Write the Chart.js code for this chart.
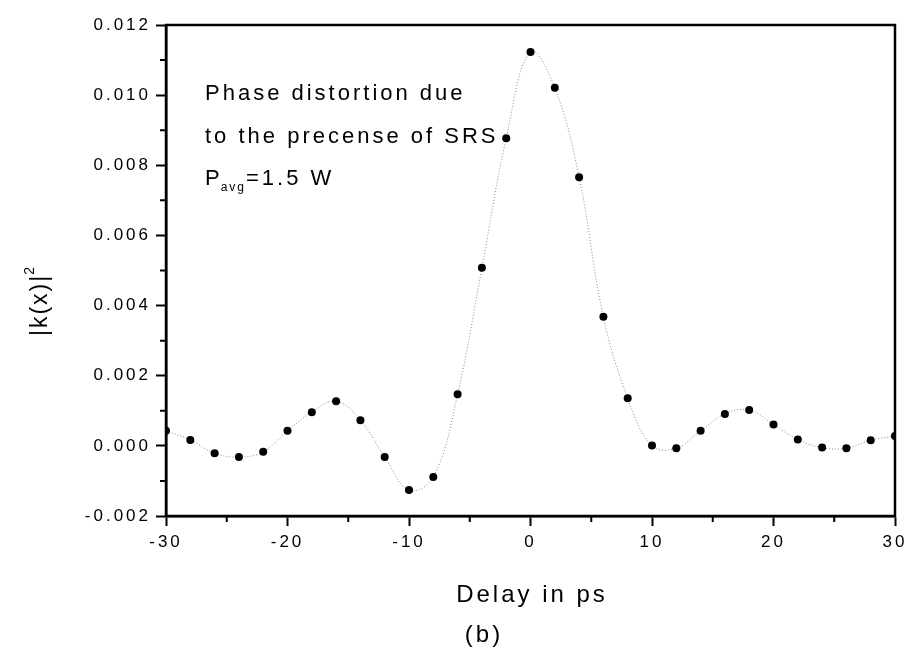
<!DOCTYPE html>
<html><head><meta charset="utf-8">
<script src="https://cdn.jsdelivr.net/npm/chart.js@4/dist/chart.umd.min.js"></script>
<style>html,body{margin:0;padding:0;background:#fff}#wrap{width:910px;height:654px}</style>
</head><body><div id="wrap"><canvas id="c" width="910" height="654"></canvas></div>
<script>
const delays = [-30,-28,-26,-24,-22,-20,-18,-16,-14,-12,-10,-8,-6,-4,-2,0,2,4,6,8,10,12,14,16,18,20,22,24,26,28,30];
const kx2 = [0.00043,0.00017,-0.00021,-0.00032,-0.00017,0.00043,0.00096,0.00127,0.00073,-0.00032,-0.00126,-0.00089,0.00147,0.00508,0.00877,0.01123,0.01021,0.00766,0.00368,0.00136,0.00001,-0.00007,0.00043,0.00091,0.00102,0.00061,0.00018,-0.00005,-0.00007,0.00016,0.00028];
const xMinorTicks = [-25,-15,-5,5,15,25];
const yMinorTicks = [-0.001,0.001,0.003,0.005,0.007,0.009,0.011];
const annotationLines = ['Phase distortion due','to the precense of SRS'];
const powerLabel = {main:'P', sub:'avg', rest:'=1.5 W'};
const xTitle = 'Delay in ps';
const yTitle = '|k(x)|';
const yTitleSup = '2';
const caption = '(b)';

const FONT = 'Arial, "Liberation Sans", sans-serif';
const spacingPlugin = {
  id:'spacing',
  beforeLayout(chart){ chart.ctx.letterSpacing='3px'; },
  beforeDraw(chart){ chart.ctx.letterSpacing='3px'; }
};
const decorPlugin = {
  id:'decor',
  afterDraw(chart){
    const ctx = chart.ctx, a = chart.chartArea;
    const xs = chart.scales.x, ys = chart.scales.y;
    ctx.save();
    ctx.strokeStyle='#000'; ctx.lineWidth=2.5;
    ctx.strokeRect(a.left, a.top, a.right-a.left, a.bottom-a.top);
    ctx.lineWidth=2;
    ctx.beginPath();
    xMinorTicks.forEach(v=>{const p=xs.getPixelForValue(v); ctx.moveTo(p,a.bottom); ctx.lineTo(p,a.bottom+6);});
    yMinorTicks.forEach(v=>{const p=ys.getPixelForValue(v); ctx.moveTo(a.left,p); ctx.lineTo(a.left-6,p);});
    ctx.stroke();
    ctx.fillStyle='#000';
    // annotation
    ctx.letterSpacing='3px';
    ctx.font='22px '+FONT;
    ctx.textAlign='left'; ctx.textBaseline='alphabetic';
    ctx.fillText(annotationLines[0], 205, 100);
    ctx.fillText(annotationLines[1], 205, 143);
    ctx.fillText(powerLabel.main, 205, 185);
    let w = ctx.measureText(powerLabel.main).width;
    ctx.font='12px '+FONT; ctx.letterSpacing='2px';
    ctx.fillText(powerLabel.sub, 205+w-2, 191);
    let w2 = ctx.measureText(powerLabel.sub).width;
    ctx.font='22px '+FONT; ctx.letterSpacing='3px';
    ctx.fillText(powerLabel.rest, 205+w-2+w2, 185);
    // x title
    ctx.font='24px '+FONT; ctx.letterSpacing='3px';
    ctx.textAlign='center';
    ctx.fillText(xTitle, 532, 602);
    ctx.fillText(caption, 484, 642);
    // y title
    ctx.translate(47, 300);
    ctx.rotate(-Math.PI/2);
    ctx.font='23px '+FONT; ctx.letterSpacing='2px';
    const tw = ctx.measureText(yTitle).width;
    ctx.font='14px '+FONT;
    const sw = ctx.measureText(yTitleSup).width;
    const start = -(tw+sw)/2;
    ctx.textAlign='left';
    ctx.font='23px '+FONT;
    ctx.fillText(yTitle, start, 0);
    ctx.font='14px '+FONT;
    ctx.fillText(yTitleSup, start+tw-1, -13);
    ctx.restore();
  }
};

new Chart(document.getElementById('c'), {
  type:'line',
  data:{datasets:[{
    data: delays.map((d,i)=>({x:d,y:kx2[i]})),
    borderColor:'#8a8a8a', borderWidth:1, borderDash:[1,2],
    tension:0.4, cubicInterpolationMode:'default',
    pointRadius:4, pointBackgroundColor:'#000', pointBorderColor:'#000', pointBorderWidth:0,
    fill:false
  }]},
  options:{
    responsive:false, devicePixelRatio:1, animation:false,
    layout:{padding:{left:0,right:15,top:25,bottom:0}},
    plugins:{legend:{display:false}, tooltip:{enabled:false}},
    scales:{
      x:{type:'linear', min:-30, max:30,
        ticks:{stepSize:10, color:'#000', font:{size:17, family:FONT}, padding:6, maxRotation:0},
        grid:{drawOnChartArea:false, tickLength:10, tickColor:'#000', tickWidth:2},
        border:{color:'#000', width:2.5},
        afterFit(s){ s.height=138; s.paddingLeft=0; s.paddingRight=0; }
      },
      y:{min:-0.002, max:0.012,
        ticks:{stepSize:0.002, color:'#000', font:{size:17, family:FONT}, padding:5,
          callback:v=> Math.abs(v)<1e-9 ? '0.000' : Number(v).toFixed(3)},
        grid:{drawOnChartArea:false, tickLength:10, tickColor:'#000', tickWidth:2},
        border:{color:'#000', width:2.5},
        afterFit(s){ s.width=166; s.paddingTop=0; s.paddingBottom=0; }
      }
    }
  },
  plugins:[spacingPlugin, decorPlugin]
});
</script></body></html>
